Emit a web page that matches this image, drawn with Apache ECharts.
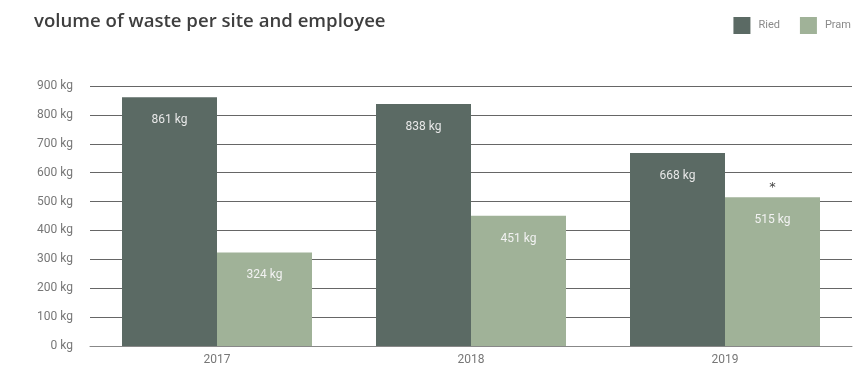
<!DOCTYPE html>
<html><head><meta charset="utf-8">
<script src="https://cdn.jsdelivr.net/npm/echarts@6/dist/echarts.min.js"></script>
<style>html,body{margin:0;padding:0;background:#fff}#c{width:864px;height:372px}</style>
</head><body><div id="c"></div>
<script>
const categories = ['2017', '2018', '2019'];
const ried = [861, 838, 668];
const pram = [324, 451, 515];
const noteMarks = [null, null, 0];
const yTicks = [0, 100, 200, 300, 400, 500, 600, 700, 800, 900];

const chart = echarts.init(document.getElementById('c'));
const labelFont = { fontFamily: 'Roboto', fontSize: 12 };
chart.setOption({
  animation: false,
  title: {
    text: 'volume of waste per site and employee',
    left: 29, top: 7,
    textStyle: { fontFamily: 'Open Sans', fontWeight: 600, fontSize: 18.6, color: '#3e3e3e' }
  },
  legend: {
    data: ['Ried', 'Pram'],
    right: 8, top: 12,
    itemWidth: 17, itemHeight: 17, itemGap: 20,
    textStyle: { fontFamily: 'Roboto', fontSize: 11, color: '#8a8a8a', padding: [0, 0, 0, 3] },
    icon: 'rect'
  },
  grid: { left: 90, right: 12, top: 86, bottom: 26 },
  xAxis: {
    type: 'category', data: categories,
    axisTick: { show: false },
    axisLine: { lineStyle: { color: '#888', width: 1 } },
    axisLabel: { ...labelFont, color: '#777', margin: 8 }
  },
  yAxis: {
    type: 'value', min: yTicks[0], max: yTicks[yTicks.length - 1], interval: 100,
    axisLabel: { ...labelFont, color: '#777', margin: 17, formatter: v => v + ' kg' },
    splitLine: { lineStyle: { color: '#666', width: 1 } },
    axisLine: { show: false }, axisTick: { show: false }
  },
  series: [
    {
      name: 'Ried', type: 'bar', data: ried, barWidth: 95, barGap: '0%',
      itemStyle: { color: '#5b6a64' },
      label: { show: true, position: 'insideTop', distance: 17, ...labelFont, color: '#e8e8e8', formatter: p => p.value + ' kg' }
    },
    {
      name: 'Pram', type: 'bar', data: pram, barWidth: 95, stack: 'p',
      itemStyle: { color: '#a0b298' },
      label: { show: true, position: 'insideTop', distance: 17, ...labelFont, color: '#f2f2f2', formatter: p => p.value + ' kg' }
    },
    {
      name: 'note', type: 'bar', data: noteMarks, barWidth: 95, stack: 'p',
      itemStyle: { color: 'transparent' },
      label: { show: true, position: 'top', distance: 3, fontFamily: 'DejaVu Sans', fontSize: 13, color: '#444', formatter: '*' }
    }
  ]
});
</script></body></html>
